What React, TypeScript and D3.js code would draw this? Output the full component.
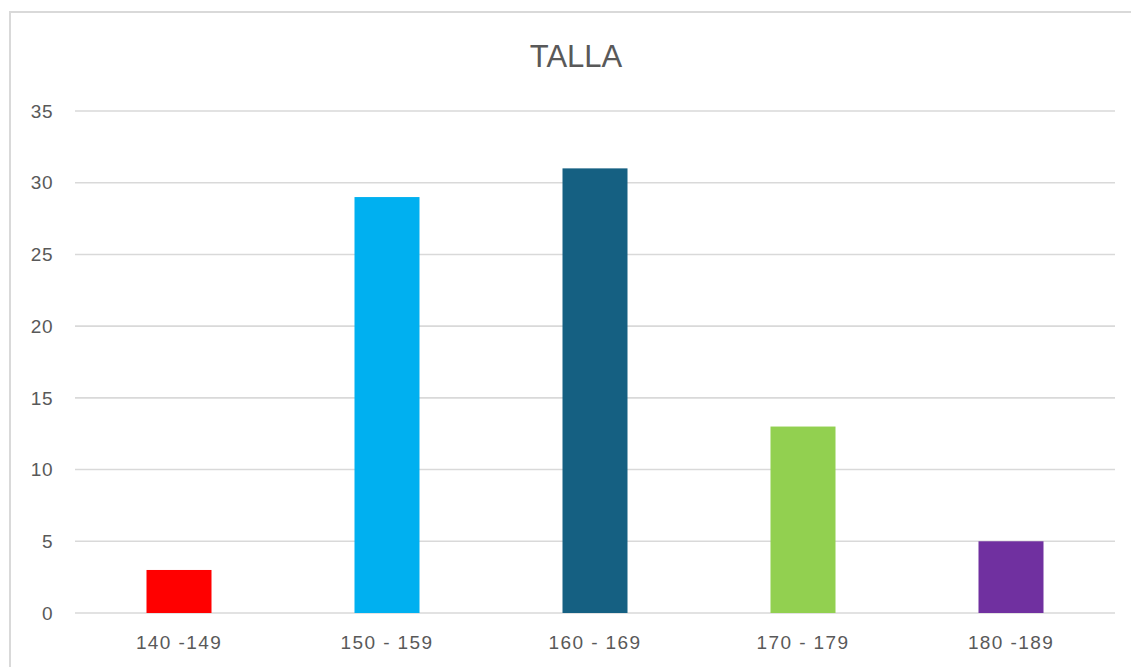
import React, { useEffect, useRef } from "react";
import * as d3 from "d3";

const categories = ["140 -149", "150 - 159", "160 - 169", "170 - 179", "180 -189"];
const values = [3, 29, 31, 13, 5];
const barColors = ["#FF0000", "#00B0F0", "#156082", "#92D050", "#7030A0"];
const yTicks = [0, 5, 10, 15, 20, 25, 30, 35];
const title = "TALLA";

const App = () => {
  const ref = useRef<SVGSVGElement>(null);

  useEffect(() => {
    const width = 1131;
    const height = 667;
    const left = 75;
    const right = 1115;
    const top = 111;
    const bottom = 613;

    const svg = d3.select(ref.current).attr("width", width).attr("height", height);
    svg.selectAll("*").remove();

    svg
      .append("rect")
      .attr("x", 10)
      .attr("y", 12)
      .attr("width", width + 10)
      .attr("height", height + 10)
      .attr("fill", "white")
      .attr("stroke", "#d9d9d9")
      .attr("stroke-width", 2);

    const x = d3
      .scaleBand()
      .domain(categories)
      .range([left, right])
      .paddingInner(0.6875)
      .paddingOuter(0.34375);

    const y = d3.scaleLinear().domain([0, 35]).range([bottom, top]);

    // gridlines
    svg
      .append("g")
      .selectAll("line")
      .data(yTicks)
      .enter()
      .append("line")
      .attr("x1", left)
      .attr("x2", right)
      .attr("y1", (d) => y(d))
      .attr("y2", (d) => y(d))
      .attr("stroke", "#d9d9d9")
      .attr("stroke-width", 1.6);

    // y labels
    svg
      .append("g")
      .selectAll("text")
      .data(yTicks)
      .enter()
      .append("text")
      .attr("x", 53)
      .attr("y", (d) => y(d))
      .attr("dy", "0.35em")
      .attr("text-anchor", "end")
      .style("font-family", "Liberation Sans, Arial, sans-serif")
      .style("font-size", "19px")
      .style("letter-spacing", "0.5px")
      .style("fill", "#595959")
      .text((d) => d);

    // bars
    svg
      .append("g")
      .selectAll("rect")
      .data(values)
      .enter()
      .append("rect")
      .attr("x", (d, i) => x(categories[i]) as number)
      .attr("y", (d) => y(d))
      .attr("width", x.bandwidth())
      .attr("height", (d) => y(0) - y(d))
      .attr("fill", (d, i) => barColors[i]);

    // x labels
    svg
      .append("g")
      .selectAll("text")
      .data(categories)
      .enter()
      .append("text")
      .attr("x", (d) => (x(d) as number) + x.bandwidth() / 2)
      .attr("y", 642)
      .attr("dy", "0.35em")
      .attr("text-anchor", "middle")
      .style("font-family", "Liberation Sans, Arial, sans-serif")
      .style("font-size", "19px")
      .style("letter-spacing", "1.4px")
      .style("fill", "#595959")
      .text((d) => d);

    svg
      .append("text")
      .attr("x", 576)
      .attr("y", 56)
      .attr("dy", "0.35em")
      .attr("text-anchor", "middle")
      .style("font-family", "Liberation Sans, Arial, sans-serif")
      .style("font-size", "31px")
      .style("fill", "#595959")
      .text(title);
  }, []);

  return <svg ref={ref} style={{ position: "absolute", left: 0, top: 0, display: "block" }}></svg>;
};

export default App;
